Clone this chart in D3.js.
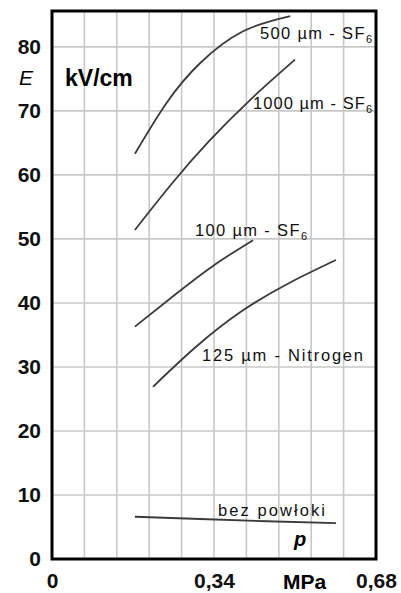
<!DOCTYPE html>
<html>
<head>
<meta charset="utf-8">
<script src="https://cdn.jsdelivr.net/npm/d3@7"></script>
<style>
  body { margin: 0; background: #fff; }
  text { font-family: "Liberation Sans", Arial, sans-serif; }
</style>
</head>
<body>
<svg id="chart" width="401" height="593"></svg>
<script>
// pressure in MPa, field strength E in kV/cm
var p500 = [0.174, 0.24, 0.31, 0.40, 0.50];
var e500 = [63.3, 71.2, 77.4, 82.4, 84.8];

var p1000 = [0.174, 0.25, 0.33, 0.42, 0.51];
var e1000 = [51.4, 58.5, 65.3, 72.0, 78.0];

var p100 = [0.174, 0.26, 0.34, 0.422];
var e100 = [36.3, 41.4, 45.9, 49.8];

var pN2 = [0.212, 0.30, 0.40, 0.50, 0.596];
var eN2 = [26.9, 33.0, 38.8, 43.2, 46.7];

var pBare = [0.174, 0.311, 0.451, 0.596];
var eBare = [6.6, 6.25, 5.9, 5.6];

var yTicks = [0, 10, 20, 30, 40, 50, 60, 70, 80];
var xTicks = [0, 0.34, 0.68];
var xTickLabels = ["0", "0,34", "0,68"];

var svg = d3.select("#chart");
var x = d3.scaleLinear().domain([0, 0.68]).range([52, 376]);
var y = d3.scaleLinear().domain([0, 85.6]).range([559, 11]);

// grid
svg.append("g").selectAll("line").data(d3.range(1, 10).map(function(i){ return i * 0.068; }))
  .enter().append("line")
  .attr("x1", function(d){ return x(d); }).attr("x2", function(d){ return x(d); })
  .attr("y1", y(85.6)).attr("y2", y(0))
  .style("stroke", "#c8c8c8").style("stroke-width", 1.6);
svg.append("g").selectAll("line").data(yTicks.slice(1))
  .enter().append("line")
  .attr("x1", x(0)).attr("x2", x(0.68))
  .attr("y1", function(d){ return y(d); }).attr("y2", function(d){ return y(d); })
  .style("stroke", "#c8c8c8").style("stroke-width", 1.6);

// curves
var line = d3.line()
  .x(function(d){ return x(d[0]); })
  .y(function(d){ return y(d[1]); })
  .curve(d3.curveNatural);
var series = [[p500, e500], [p1000, e1000], [p100, e100], [pN2, eN2], [pBare, eBare]];
svg.append("g").selectAll("path").data(series).enter().append("path")
  .attr("d", function(s){ return line(d3.zip(s[0], s[1])); })
  .style("fill", "none").style("stroke", "#3a3a3a").style("stroke-width", 1.8);

// frame
svg.append("rect")
  .attr("x", x(0)).attr("y", y(85.6))
  .attr("width", x(0.68) - x(0)).attr("height", y(0) - y(85.6))
  .style("fill", "none").style("stroke", "#000").style("stroke-width", 3);

// axes
var yAxis = svg.append("g").attr("transform", "translate(" + x(0) + ",0)")
  .call(d3.axisLeft(y).tickValues(yTicks).tickSize(0).tickPadding(11));
yAxis.select(".domain").remove();
yAxis.selectAll("text").style("font-size", "21px").style("font-weight", "bold")
  .style("font-family", "Liberation Sans, Arial, sans-serif").attr("fill", "#111");

var xAxis = svg.append("g").attr("transform", "translate(0," + y(0) + ")")
  .call(d3.axisBottom(x).tickValues(xTicks).tickFormat(function(d, i){ return xTickLabels[i]; }).tickSize(0).tickPadding(14));
xAxis.select(".domain").remove();
xAxis.selectAll("text").style("font-size", "21px").style("font-weight", "bold")
  .style("font-family", "Liberation Sans, Arial, sans-serif").attr("fill", "#111");

svg.append("text").attr("x", x(0.53)).attr("y", 589).attr("text-anchor", "middle")
  .style("font-size", "21px").style("font-weight", "bold").text("MPa");

svg.append("text").attr("x", 26).attr("y", 85).attr("text-anchor", "middle")
  .style("font-size", "21px").style("font-style", "italic").text("E");
svg.append("text").attr("x", 65).attr("y", 86)
  .style("font-size", "23px").style("font-weight", "bold").text("kV/cm");

svg.append("text").attr("x", 300).attr("y", 546).attr("text-anchor", "middle")
  .style("font-size", "20px").style("font-weight", "bold").style("font-style", "italic").text("p");

// curve labels
function label(tx, ty, len, main, sub) {
  var t = svg.append("text").attr("x", tx).attr("y", ty)
    .style("font-size", "16.5px").attr("fill", "#111");
  t.append("tspan").text(main);
  if (sub) t.append("tspan").attr("dy", 4).style("font-size", "11px").text(sub);
  t.attr("textLength", len).attr("lengthAdjust", "spacing");
}
label(260, 39, 112, "500 \u00b5m - SF", "6");
label(253, 109, 119, "1000 \u00b5m - SF", "6");
label(195, 236, 112, "100 \u00b5m - SF", "6");
label(202, 361, 161, "125 \u00b5m - Nitrogen");
label(218, 516, 107, "bez pow\u0142oki");
</script>
</body>
</html>
